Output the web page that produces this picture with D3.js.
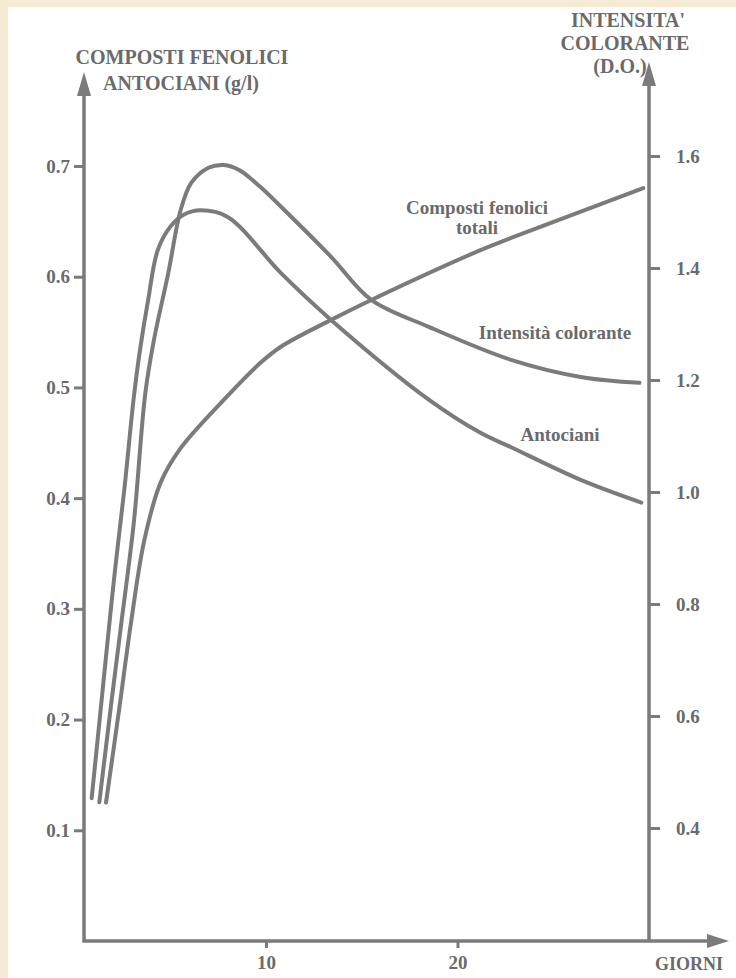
<!DOCTYPE html>
<html>
<head>
<meta charset="utf-8">
<script src="https://cdn.jsdelivr.net/npm/d3@7"></script>
<style>
  body { margin: 0; background: #ffffff; }
  text { font-family: "Liberation Serif", "DejaVu Serif", serif; font-weight: bold; fill: #6a6a6a; }
</style>
</head>
<body>
<div id="chart"></div>
<script>
// values
var antDays = [0.9, 1.3, 1.65, 2.1, 2.6, 3.1, 3.4, 3.85, 4.35, 5.0, 5.7, 6.6, 8.0, 10.8, 13.4, 18.5, 21.2, 22.8, 26.5, 29.6];
var antVals = [0.129, 0.197, 0.257, 0.332, 0.407, 0.491, 0.531, 0.579, 0.624, 0.645, 0.656, 0.660, 0.654, 0.603, 0.561, 0.489, 0.459, 0.446, 0.416, 0.396];

var intDays = [1.3, 1.9, 2.45, 3.1, 3.7, 4.15, 4.9, 5.55, 6.1, 7.0, 7.8, 8.6, 9.7, 10.8, 13.4, 15.5, 18.5, 22.8, 26.5, 29.5];
var intVals = [0.446, 0.616, 0.766, 0.945, 1.176, 1.271, 1.391, 1.504, 1.552, 1.579, 1.584, 1.575, 1.545, 1.509, 1.420, 1.343, 1.295, 1.236, 1.205, 1.195];

var fenDays = [1.65, 2.35, 2.95, 3.65, 4.5, 5.5, 7.65, 9.7, 10.8, 13.4, 15.5, 21.2, 22.8, 29.7];
var fenVals = [0.125, 0.211, 0.287, 0.362, 0.414, 0.444, 0.486, 0.522, 0.537, 0.561, 0.579, 0.624, 0.635, 0.680];

var leftTicks = [0.1, 0.2, 0.3, 0.4, 0.5, 0.6, 0.7];
var rightTicks = [0.4, 0.6, 0.8, 1.0, 1.2, 1.4, 1.6];
var dayTicks = [10, 20];

var W = 736, H = 978,
    lineColor = "#7b7b7b";

var svg = d3.select('#chart')
    .append('svg')
    .attr('width', W)
    .attr('height', H);

// cream scan border on top and left
svg.append('rect').attr('x', 0).attr('y', 0).attr('width', W).attr('height', H).style('fill', '#f6ecd6');
svg.append('rect').attr('x', 8).attr('y', 7).attr('width', W - 8).attr('height', H - 7).style('fill', '#ffffff');

var x = d3.scaleLinear().domain([0.5, 30]).range([84, 649]),
    yL = d3.scaleLinear().domain([0, 0.7]).range([941, 166]),
    yR = d3.scaleLinear().domain([0.2, 1.6]).range([940, 156]);

// axes (ticks only, lines drawn by hand with arrows)
var gL = svg.append('g')
    .attr('transform', 'translate(' + x(0.5) + ',0)')
    .call(d3.axisLeft(yL).tickValues(leftTicks).tickSize(10).tickPadding(4).tickFormat(d3.format('.1f')));
var gR = svg.append('g')
    .attr('transform', 'translate(' + x(30) + ',0)')
    .call(d3.axisRight(yR).tickValues(rightTicks).tickSize(11).tickPadding(16).tickFormat(d3.format('.1f')));
var gB = svg.append('g')
    .attr('transform', 'translate(0,' + yL(0) + ')')
    .call(d3.axisBottom(x).tickValues(dayTicks).tickSize(7).tickPadding(8).tickFormat(d3.format('d')));

[gL, gR, gB].forEach(function (g) {
    g.select('.domain').remove();
    g.selectAll('.tick line').style('stroke', lineColor).style('stroke-width', 3);
    g.selectAll('.tick text')
        .style('font-family', '"Liberation Serif", serif')
        .style('font-weight', 'bold')
        .style('font-size', '19px')
        .style('fill', '#6a6a6a');
});

// axis lines
svg.append('path')
    .attr('d', 'M' + x(0.5) + ',' + 94 + 'L' + x(0.5) + ',' + yL(0) + 'L' + 714 + ',' + yL(0) +
               'M' + x(30) + ',' + yL(0) + 'L' + x(30) + ',' + 82)
    .style('fill', 'none')
    .style('stroke', lineColor)
    .style('stroke-width', 3.5);

function arrow(tipX, tipY, dir) {
    var d;
    if (dir === 'up') {
        d = 'M' + tipX + ',' + tipY + 'L' + (tipX - 7) + ',' + (tipY + 24) + 'L' + (tipX + 7) + ',' + (tipY + 24) + 'Z';
    } else {
        d = 'M' + tipX + ',' + tipY + 'L' + (tipX - 22) + ',' + (tipY - 7) + 'L' + (tipX - 22) + ',' + (tipY + 7) + 'Z';
    }
    svg.append('path').attr('d', d).style('fill', lineColor);
}
arrow(x(0.5), 72, 'up');
arrow(x(30), 62, 'up');
arrow(729, yL(0), 'right');

// curves
var lineL = d3.line()
    .x(function (d) { return x(d[0]); })
    .y(function (d) { return yL(d[1]); })
    .curve(d3.curveCatmullRom.alpha(0.5));
var lineR = d3.line()
    .x(function (d) { return x(d[0]); })
    .y(function (d) { return yR(d[1]); })
    .curve(d3.curveCatmullRom.alpha(0.5));

function addCurve(days, vals, gen) {
    svg.append('path')
        .datum(d3.zip(days, vals))
        .attr('d', gen)
        .style('fill', 'none')
        .style('stroke', lineColor)
        .style('stroke-width', 4)
        .style('stroke-linecap', 'round')
        .style('stroke-linejoin', 'round');
}
addCurve(antDays, antVals, lineL);
addCurve(intDays, intVals, lineR);
addCurve(fenDays, fenVals, lineL);

// labels
function label(txt, cx, cy, size, anchor) {
    svg.append('text')
        .attr('x', cx)
        .attr('y', cy)
        .attr('text-anchor', anchor || 'middle')
        .style('font-size', size + 'px')
        .text(txt);
}
label('COMPOSTI FENOLICI', 182, 64, 20);
label('ANTOCIANI (g/l)', 181, 90, 20);
label("INTENSITA'", 628, 27, 20);
label('COLORANTE', 625, 50, 20);
label('(D.O.)', 620, 73, 20);
label('GIORNI', 689, 970, 18);

label('Composti fenolici', 477, 214, 19);
label('totali', 477, 234, 19);
label('Intensità colorante', 555, 339, 19);
label('Antociani', 560, 441, 19);
</script>
</body>
</html>
